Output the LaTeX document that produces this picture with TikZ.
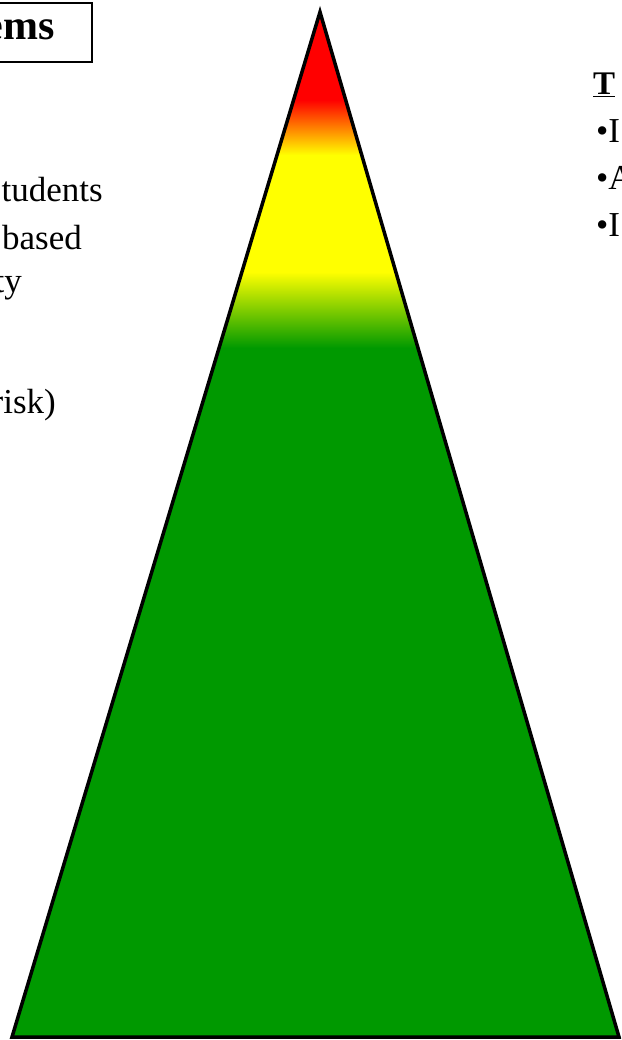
\documentclass[tikz,border=0pt]{standalone}
\usepackage{fontspec}
\setmainfont{Liberation Serif}
\usepackage{xcolor}

\definecolor{pyrgreen}{RGB}{0,153,0}
\definecolor{pyryellow}{RGB}{255,255,0}
\definecolor{pyrred}{RGB}{255,0,0}

\tikzset{
  sidetext/.style={font=\fontsize{35}{42}\selectfont, inner sep=0pt},
  headtext/.style={font=\fontsize{33}{40}\selectfont\bfseries, inner sep=0pt},
  boxtext/.style={font=\fontsize{42}{48}\selectfont\bfseries, inner sep=0pt}
}

\begin{document}
\begin{tikzpicture}[x=1pt,y=-1pt]
        \useasboundingbox (0,0) rectangle (621,1040);
        \clip (0,0) rectangle (621,1040);

        % pyramid
        \coordinate (apex) at (320,12);
        \coordinate (baseleft) at (12,1037);
        \coordinate (baseright) at (619,1037);
        \begin{scope}
            \clip (apex) -- (baseleft) -- (baseright) -- cycle;
            \fill[pyrgreen] (0,0) rectangle (621,1040);
            \shade[top color=pyryellow, bottom color=pyrgreen] (0,272) rectangle (621,348);
            \fill[pyryellow] (0,155) rectangle (621,272);
            \shade[top color=pyrred, bottom color=pyryellow] (0,100) rectangle (621,155);
            \fill[pyrred] (0,0) rectangle (621,100);
        \end{scope}
        \draw[line width=3.5pt, line join=miter] (apex) -- (baseleft) -- (baseright) -- cycle;

        % left column
        \draw[line width=2pt] (-20,3) rectangle (92,62);
        \node[boxtext, anchor=base east] (systems) at (55,40) {ems};

        \node[sidetext, anchor=base east] (students) at (103,202) {tudents};
        \node[sidetext, anchor=base east] (based) at (82,250) {based};
        \node[sidetext, anchor=base east] (ty) at (22,292) {ty};
        \node[sidetext, anchor=base east] (risk) at (56,413) {risk)};

        % right column
        \node[headtext, anchor=base west] (tier) at (593,95) {\underline{T}};
        \node[sidetext, anchor=base west] (itemone) at (596,143) {•I};
        \node[sidetext, anchor=base west] (itemtwo) at (596,190) {•A};
        \node[sidetext, anchor=base west] (itemthree) at (596,237) {•I};
    \end{tikzpicture}
\end{document}
